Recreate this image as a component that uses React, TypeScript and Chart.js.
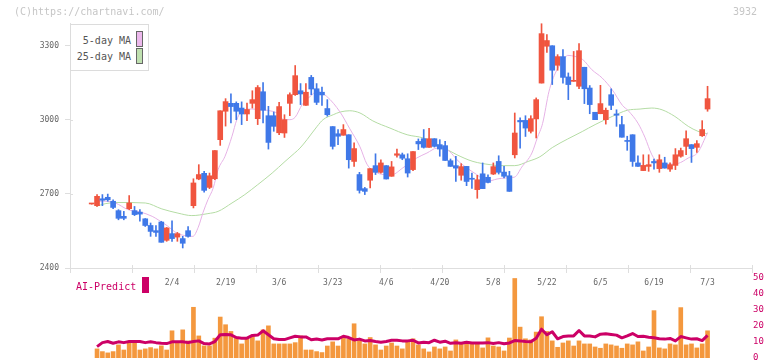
import { useEffect, useRef } from "react";
import { Chart, registerables } from "chart.js";

Chart.register(...registerables);

const MONO = "'DejaVu Sans Mono', monospace";
const UP = "#f0553f";
const DOWN = "#3f78e8";
const MA5_COLOR = "#e6b2e6";
const MA25_COLOR = "#b4dca4";
const VOL_COLOR = "#f4983e";
const AI_COLOR = "#cc0066";
const AXIS_COLOR = "#dedede";
const LABEL_COLOR = "#666";

// Daily sessions 0..115 (open / high / low / close, yen)
const opens = [
  2659, 2652, 2680, 2686, 2670, 2632, 2609, 2640, 2632, 2626, 2599, 2572, 2551, 2586, 2512, 2539, 2525, 2519, 2551, 2652,
  2760, 2783, 2726, 2761, 2919, 3034, 3066, 3066, 3047, 3023, 3066, 3004, 3113, 3016, 3016, 2947, 2946, 3066, 3101, 3117,
  3058, 3171, 3125, 3111, 3045, 2972, 2943, 2937, 2939, 2831, 2778, 2721, 2755, 2814, 2787, 2814, 2771, 2856, 2858, 2842,
  2798, 2912, 2923, 2888, 2923, 2899, 2895, 2834, 2814, 2775, 2811, 2762, 2717, 2781, 2767, 2780, 2831, 2788, 2773, 2858,
  2997, 2997, 2953, 3003, 3148, 3297, 3299, 3220, 3255, 3173, 3155, 3135, 3212, 3128, 3030, 3024, 3000, 3101, 3023, 2980,
  2915, 2939, 2825, 2794, 2811, 2831, 2802, 2825, 2800, 2815, 2852, 2892, 2899, 2888, 2935, 3043,
];
const highs = [
  2660, 2697, 2697, 2699, 2676, 2636, 2629, 2693, 2649, 2636, 2600, 2582, 2572, 2589, 2564, 2591, 2544, 2528, 2568, 2761,
  2818, 2791, 2784, 2875, 3036, 3085, 3105, 3072, 3072, 3067, 3117, 3138, 3150, 3054, 3031, 3070, 3020, 3109, 3219, 3146,
  3146, 3179, 3146, 3132, 3081, 2972, 2960, 2980, 2939, 2906, 2787, 2726, 2802, 2862, 2838, 2814, 2831, 2881, 2865, 2862,
  2871, 2922, 2960, 2965, 2923, 2919, 2912, 2841, 2852, 2822, 2811, 2784, 2775, 2825, 2777, 2825, 2854, 2811, 2791, 3027,
  3007, 3016, 3016, 3088, 3388, 3344, 3299, 3263, 3283, 3189, 3276, 3308, 3212, 3138, 3030, 3139, 3047, 3125, 3040, 3013,
  2933, 2939, 2854, 2858, 2858, 2841, 2858, 2848, 2825, 2883, 2885, 2955, 2899, 2915, 2996, 3135,
];
const lows = [
  2658, 2649, 2652, 2670, 2640, 2595, 2595, 2636, 2612, 2589, 2568, 2528, 2528, 2504, 2508, 2508, 2508, 2481, 2525, 2643,
  2757, 2707, 2721, 2757, 2896, 2974, 2987, 3000, 2980, 2996, 3047, 2980, 2987, 2881, 2953, 2939, 2928, 3016, 3098, 3061,
  3058, 3101, 3061, 3058, 3014, 2881, 2899, 2937, 2804, 2811, 2703, 2697, 2724, 2778, 2784, 2760, 2771, 2848, 2838, 2768,
  2794, 2879, 2885, 2888, 2889, 2852, 2835, 2811, 2750, 2755, 2733, 2722, 2682, 2721, 2744, 2778, 2780, 2764, 2710, 2845,
  2885, 2932, 2946, 2926, 3148, 3272, 3142, 3200, 3148, 3081, 3155, 3125, 3065, 3024, 3000, 3024, 2982, 3040, 2973, 2929,
  2876, 2811, 2811, 2794, 2791, 2800, 2787, 2804, 2791, 2798, 2848, 2858, 2827, 2868, 2932, 3034,
];
const closes = [
  2659, 2690, 2674, 2676, 2645, 2601, 2601, 2663, 2616, 2618, 2572, 2548, 2544, 2504, 2562, 2519, 2539, 2500, 2528, 2744,
  2778, 2714, 2773, 2875, 3036, 3073, 3053, 3034, 3023, 3041, 3081, 3130, 3038, 2908, 2973, 3053, 3000, 3101, 3178, 3104,
  3111, 3124, 3070, 3100, 3020, 2892, 2933, 2960, 2838, 2883, 2714, 2710, 2802, 2787, 2825, 2760, 2809, 2862, 2844, 2784,
  2871, 2902, 2888, 2923, 2892, 2881, 2835, 2811, 2804, 2810, 2750, 2759, 2757, 2721, 2746, 2810, 2787, 2771, 2710, 2946,
  2991, 2966, 3004, 3081, 3348, 3320, 3200, 3255, 3171, 3142, 3158, 3279, 3125, 3061, 3000, 3065, 3038, 3058, 3018, 2929,
  2912, 2831, 2811, 2815, 2818, 2825, 2838, 2804, 2818, 2858, 2875, 2923, 2883, 2903, 2960, 3085,
];

// Moving averages as [session, price]
const ma5: [number, number][] = [
  [0.6, 2670], [2.5, 2670], [4.4, 2663], [6.8, 2636], [9, 2627], [11.3, 2609], [12.4, 2595], [14.1, 2571],
  [15.9, 2541], [17.4, 2531], [18.9, 2528], [19.9, 2565], [20.8, 2625], [21.7, 2676], [22.7, 2724], [23.6, 2798],
  [24.9, 2852], [26.2, 2933], [27.1, 3000], [28.3, 3040], [29.9, 3043], [32, 3040], [33.7, 3034], [34.6, 3027],
  [35.9, 3000], [37, 3000], [38, 3010], [39.3, 3061], [40.8, 3094], [42.1, 3114], [43.9, 3094], [46.4, 3030],
  [48.2, 2963], [50.1, 2890], [51.4, 2820], [53.3, 2785], [54.8, 2778], [56.1, 2778], [58.1, 2805], [60.7, 2845],
  [62.6, 2865], [64.5, 2885], [65.8, 2882], [66.9, 2870], [68.2, 2838], [70.1, 2804], [71.9, 2778], [73.8, 2750],
  [75.7, 2760], [77.2, 2764], [79, 2768], [80.3, 2808], [82.2, 2865], [83.2, 2926], [84.2, 2985], [85.4, 3115],
  [86.5, 3185], [87.8, 3232], [88.9, 3260], [90.2, 3256], [91.7, 3243], [93.4, 3202], [95.3, 3169], [97.2, 3121],
  [99.1, 3058], [100.2, 3036], [102, 2986], [103.3, 2929], [104.6, 2858], [105.8, 2825], [107.7, 2820], [109.5, 2823],
  [111.4, 2845], [113.2, 2868], [115, 2948],
];
const ma25: [number, number][] = [
  [0.8, 2649], [2.5, 2660], [4.9, 2665], [10, 2663], [13.1, 2639], [16.1, 2622], [18.7, 2612], [21.7, 2620],
  [23.6, 2629], [26.2, 2663], [28.6, 2697], [31, 2737], [33.7, 2784], [36.1, 2831], [37.9, 2865], [38.9, 2885],
  [40.2, 2919], [42.1, 2973], [43.2, 3000], [45.1, 3020], [46.4, 3031], [48.2, 3036], [50.1, 3027], [52.5, 2995],
  [55.7, 2966], [58.9, 2939], [61.9, 2926], [65, 2895], [68.2, 2858], [71.2, 2831], [74.4, 2818], [76.2, 2814],
  [79, 2814], [81.5, 2831], [83.7, 2850], [86, 2887], [88.9, 2922], [91.6, 2952], [94, 2980], [97.2, 3013],
  [100, 3038], [102.4, 3043], [104.6, 3047], [106.5, 3040], [108.9, 3013], [111.4, 2973], [113.2, 2953], [115, 2943],
];

// Lower panel, sessions 0..115 (session 0 had no trades)
const volumes: (number | null)[] = [
  null, 5.7, 4.0, 3.2, 4.0, 8.2, 5.0, 9.6, 9.6, 5.0, 5.7, 6.5, 5.7, 7.6, 5.0, 17, 10.3, 17.6, 10.7, 31.7,
  13.8, 7.6, 7.6, 12.4, 25.6, 20.8, 16.6, 12.8, 8.8, 12.4, 13.4, 10.7, 17.6, 20.1, 8.8, 8.8, 8.8, 8.8, 9.6, 13.8,
  5.0, 5.0, 4.0, 3.4, 7.5, 10.1, 7.5, 12.4, 11.8, 21.4, 10.9, 8.8, 12.8, 8.2, 5.0, 7.5, 9.4, 7.5, 5.7, 10.1,
  12.0, 8.2, 5.7, 3.8, 6.9, 5.7, 6.9, 4.4, 11.3, 8.8, 10.1, 8.8, 8.8, 6.3, 12.6, 7.5, 6.9, 4.4, 12.5, 49.7,
  19.3, 12, 11.3, 16.2, 25.8, 16.6, 10.7, 6.7, 9.4, 10.7, 7.5, 10.7, 8.8, 8.8, 6.9, 6.1, 8.8, 8.2, 7.5, 6.1,
  8.8, 8.2, 10.1, 4.4, 6.9, 29.6, 6.3, 5.7, 8.8, 8.2, 31.5, 8.2, 8.8, 6.3, 8.8, 17,
];
const aiPredict: (number | null)[] = [
  null, 7.1, 9.6, 10.3, 9.2, 10.1, 9.6, 10.3, 10.3, 10.3, 9.6, 10.1, 9.6, 9.2, 9.0, 10.1, 10.1, 10.1, 9.6, 10.3,
  10.7, 9.0, 8.8, 10.3, 14.5, 14.7, 14.5, 12.8, 12.4, 12.4, 14.1, 14.3, 17.0, 14.5, 12.0, 11.5, 11.5, 12.6, 13.6, 13.2,
  13.2, 11.4, 11.9, 11.3, 12, 12, 12, 13.6, 12.8, 11.3, 11.8, 10.7, 10.9, 10.3, 9.9, 10.3, 11.1, 11.1, 10.7, 10.7,
  11.1, 9.4, 9.9, 9.6, 11.1, 9.9, 10.5, 9.2, 9.6, 9.2, 9.9, 9.4, 9.4, 9.4, 9.6, 9.0, 9.6, 8.9, 9.4, 10.9,
  10.7, 10.3, 10.1, 12.4, 18.0, 14.5, 16.4, 12.0, 13.4, 13.8, 13.8, 17.2, 13.8, 13.8, 13.2, 14.9, 15.1, 14.7, 14.3, 12.6,
  13.8, 15.3, 13.4, 13.6, 13.0, 12.6, 12.0, 11.8, 12.2, 10.7, 13.4, 12.6, 11.8, 12.0, 10.9, 14.1,
];

const dateLabels = ["2/4", "2/19", "3/6", "3/23", "4/6", "4/20", "5/8", "5/22", "6/5", "6/19", "7/3"];
const dateLabelSessions = [15, 25, 35, 45, 55, 65, 75, 85, 95, 105, 115];
const priceTicks = [2400, 2700, 3000, 3300];
const volumeTicks = [0, 10, 20, 30, 40, 50];

const X_MIN = -4.05;
const X_MAX = 123.3;
const PRICE_MIN = 2400;
const PRICE_MAX = 3391;
const X_DIVISIONS = 11;

// short marks that poke 3px into the plot from the left and bottom axes
const innerTicks = {
  id: "innerTicks",
  afterDraw(chart: any) {
    const { ctx, chartArea } = chart;
    const xs = chart.scales.x;
    const ys = chart.scales.y;
    ctx.save();
    ctx.strokeStyle = AXIS_COLOR;
    ctx.lineWidth = 1;
    ctx.beginPath();
    xs.ticks.forEach((_: any, i: number) => {
      const px = Math.round(xs.getPixelForTick(i)) + 0.5;
      ctx.moveTo(px, chartArea.bottom - 3);
      ctx.lineTo(px, chartArea.bottom);
    });
    ys.ticks.forEach((_: any, i: number) => {
      const py = Math.round(ys.getPixelForTick(i)) + 0.5;
      ctx.moveTo(chartArea.left, py);
      ctx.lineTo(chartArea.left + 3, py);
    });
    ctx.stroke();
    ctx.restore();
  },
};

export default function App() {
  const priceRef = useRef<HTMLCanvasElement>(null);
  const volRef = useRef<HTMLCanvasElement>(null);

  useEffect(() => {
    const candleColors = closes.map((c, i) => (c >= opens[i] ? UP : DOWN));

    const priceChart = new Chart(priceRef.current as HTMLCanvasElement, {
      type: "bar",
      data: {
        datasets: [
          {
            type: "line",
            label: "25-day MA",
            data: ma25.map(([x, y]) => ({ x, y })),
            borderColor: MA25_COLOR,
            borderWidth: 1,
            pointRadius: 0,
            cubicInterpolationMode: "monotone",
            order: 4,
          },
          {
            type: "line",
            label: "5-day MA",
            data: ma5.map(([x, y]) => ({ x, y })),
            borderColor: MA5_COLOR,
            borderWidth: 1,
            pointRadius: 0,
            cubicInterpolationMode: "monotone",
            order: 3,
          },
          {
            type: "bar",
            label: "range",
            data: highs.map((h, i) => ({ x: i, y: [lows[i], h] })),
            backgroundColor: candleColors,
            barThickness: 1,
            grouped: false,
            order: 2,
          },
          {
            type: "bar",
            label: "body",
            data: opens.map((o, i) => ({ x: i, y: [o, closes[i]] })),
            backgroundColor: candleColors,
            barThickness: 5,
            minBarLength: 1,
            grouped: false,
            order: 1,
          },
        ] as any,
      },
      options: {
        responsive: false,
        animation: false,
        layout: { padding: { top: 23, right: 20, left: 0, bottom: 0 } },
        plugins: { legend: { display: false }, tooltip: { enabled: false } },
        scales: {
          x: {
            type: "linear",
            min: X_MIN,
            max: X_MAX,
            offset: false,
            weight: 0,
            ticks: { display: false },
            grid: { drawOnChartArea: false, drawTicks: true, tickLength: 5, color: AXIS_COLOR, offset: false },
            border: { color: AXIS_COLOR },
            afterBuildTicks: (s: any) => {
              s.ticks = Array.from({ length: X_DIVISIONS + 1 }, (_, k) => ({
                value: X_MIN + (k * (X_MAX - X_MIN)) / X_DIVISIONS,
              }));
            },
            afterFit: (s: any) => {
              s.height = 6;
            },
          },
          xl: {
            type: "linear",
            position: "bottom",
            min: X_MIN,
            max: X_MAX,
            offset: false,
            weight: 1,
            grid: { display: false, drawTicks: false },
            border: { display: false },
            ticks: {
              autoSkip: false,
              maxRotation: 0,
              padding: 4,
              color: LABEL_COLOR,
              font: { family: MONO, size: 8 },
              callback: (v: any) => {
                const k = dateLabelSessions.indexOf(Number(v));
                return k >= 0 ? dateLabels[k] : "";
              },
            },
            afterBuildTicks: (s: any) => {
              s.ticks = dateLabelSessions.map((value) => ({ value }));
            },
            afterFit: (s: any) => {
              s.height = 26;
            },
          },
          y: {
            type: "linear",
            position: "left",
            min: PRICE_MIN,
            max: PRICE_MAX,
            ticks: {
              padding: 6,
              color: LABEL_COLOR,
              font: { family: MONO, size: 8 },
              callback: (v: any) => String(v),
            },
            grid: { drawOnChartArea: false, tickLength: 5, color: AXIS_COLOR },
            border: { color: AXIS_COLOR },
            afterBuildTicks: (s: any) => {
              s.ticks = priceTicks.map((value) => ({ value }));
            },
            afterFit: (s: any) => {
              s.width = 70;
            },
          },
        } as any,
      },
      plugins: [innerTicks],
    });

    const volChart = new Chart(volRef.current as HTMLCanvasElement, {
      type: "bar",
      data: {
        datasets: [
          {
            type: "line",
            label: "AI-Predict",
            data: aiPredict
              .map((y, i) => ({ x: i, y }))
              .filter((p) => p.y !== null),
            borderColor: AI_COLOR,
            borderWidth: 3,
            borderJoinStyle: "round",
            pointRadius: 0,
            order: 1,
          },
          {
            type: "bar",
            label: "Volume",
            data: volumes
              .map((y, i) => ({ x: i, y }))
              .filter((p) => p.y !== null),
            backgroundColor: VOL_COLOR,
            barThickness: 4,
            order: 2,
          },
        ] as any,
      },
      options: {
        responsive: false,
        animation: false,
        layout: { padding: { top: 8, right: 0, left: 70, bottom: 12 } },
        plugins: { legend: { display: false }, tooltip: { enabled: false } },
        scales: {
          x: { type: "linear", min: X_MIN, max: X_MAX, offset: false, display: false },
          y: {
            type: "linear",
            position: "right",
            min: 0,
            max: 50,
            ticks: { padding: 1, color: AI_COLOR, font: { family: MONO, size: 9 } },
            grid: { display: false, drawTicks: false },
            border: { display: false },
            afterBuildTicks: (s: any) => {
              s.ticks = volumeTicks.map((value) => ({ value }));
            },
            afterFit: (s: any) => {
              s.width = 20;
            },
          },
        } as any,
      },
    });

    return () => {
      priceChart.destroy();
      volChart.destroy();
    };
  }, []);

  const text = (extra: any) => ({
    position: "absolute" as const,
    fontFamily: MONO,
    fontSize: 10,
    lineHeight: "12px",
    whiteSpace: "pre" as const,
    ...extra,
  });

  return (
    <div
      style={{
        position: "absolute",
        left: 0,
        top: 0,
        width: 772,
        height: 361,
        overflow: "hidden",
        background: "#fff",
      }}
    >
      <canvas ref={priceRef} width={772} height={300} style={{ position: "absolute", left: 0, top: 0 }} />
      <canvas ref={volRef} width={772} height={100} style={{ position: "absolute", left: 0, top: 270 }} />

      <div style={text({ left: 14, top: 6, color: "#c6c6c6" })}>(C)https://chartnavi.com/</div>
      <div style={text({ right: 15, top: 6, color: "#c6c6c6", textAlign: "right" })}>3932</div>

      <div
        style={{
          position: "absolute",
          left: 70,
          top: 24,
          width: 77,
          height: 45,
          border: "1px solid #dcdcdc",
          background: "#fff",
        }}
      />
      <div style={text({ right: 772 - 131, top: 35, color: "#555", textAlign: "right" })}>5-day MA</div>
      <div
        style={{
          position: "absolute",
          left: 136,
          top: 31,
          width: 5,
          height: 14,
          border: "1px solid #666",
          background: "#ecb8ec",
        }}
      />
      <div style={text({ right: 772 - 131, top: 51, color: "#555", textAlign: "right" })}>25-day MA</div>
      <div
        style={{
          position: "absolute",
          left: 136,
          top: 48,
          width: 5,
          height: 14,
          border: "1px solid #666",
          background: "#bfe0b0",
        }}
      />

      <div style={text({ left: 76, top: 281, color: AI_COLOR })}>AI-Predict</div>
      <div style={{ position: "absolute", left: 142, top: 277, width: 7, height: 16, background: AI_COLOR }} />
    </div>
  );
}
